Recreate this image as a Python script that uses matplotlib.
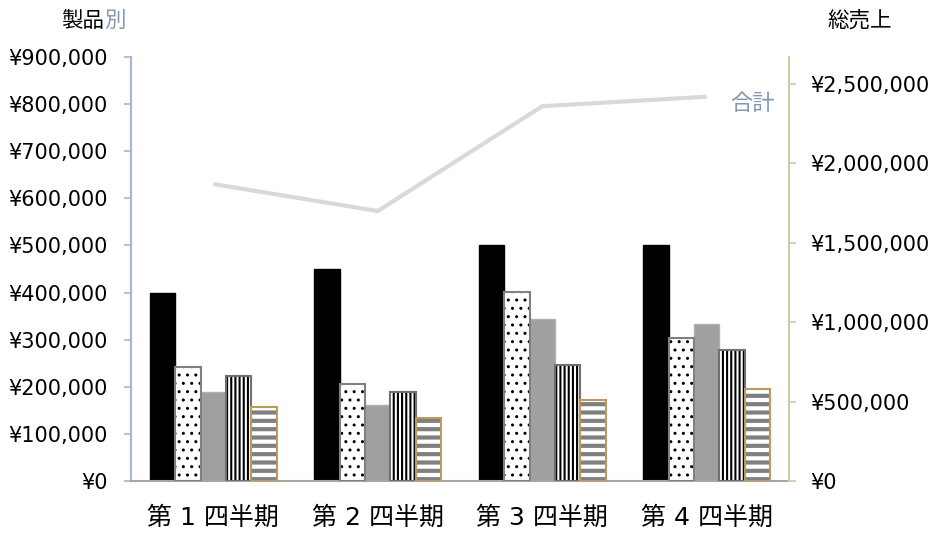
import matplotlib
matplotlib.use("Agg")
import matplotlib.pyplot as plt
import numpy as np

categories = ["第 1 四半期", "第 2 四半期", "第 3 四半期", "第 4 四半期"]
product_a = [400000, 450000, 500000, 500000]
product_b = [242000, 206000, 401000, 304000]
product_c = [189000, 161000, 344000, 333000]
product_d = [223000, 189000, 246000, 278000]
product_e = [157000, 134000, 172000, 195000]
total = [1870000, 1700000, 2360000, 2420000]
left_ticks = [0, 100000, 200000, 300000, 400000, 500000, 600000, 700000, 800000, 900000]
right_ticks = [0, 500000, 1000000, 1500000, 2000000, 2500000]

plt.rcParams['font.family'] = ['DejaVu Sans']
CJK = ['Noto Sans CJK JP', 'DejaVu Sans']
MIX = ['DejaVu Sans', 'Noto Sans CJK JP']

fig = plt.figure(figsize=(9.34, 5.34), dpi=100)
ax = fig.add_axes([131/934, 53/534, 658/934, 424/534])
ax2 = ax.twinx()

x = np.arange(len(categories))
w = 0.155
offs = np.array([-2, -1, 0, 1, 2]) * w

series = [product_a, product_b, product_c, product_d, product_e]
styles = [
    dict(face="#000000", hatch=None, hcol=None, edge="#000000", hlw=1.0),
    dict(face="#FFFFFF", hatch="..", hcol="#000000", edge="#808080", hlw=1.0),
    dict(face="#A0A0A0", hatch=None, hcol=None, edge="#B0B0B0", hlw=1.0),
    dict(face="#FFFFFF", hatch="||||", hcol="#000000", edge="#707070", hlw=1.5),
    dict(face="#FFFFFF", hatch="--", hcol="#808080", edge="#C09A5B", hlw=3.0),
]

for vals, off, st in zip(series, offs, styles):
    if st["hatch"]:
        with plt.rc_context({'hatch.linewidth': st["hlw"], 'hatch.color': st["hcol"]}):
            bars = ax.bar(x + off, vals, w, color=st["face"], edgecolor=st["hcol"],
                          hatch=st["hatch"], linewidth=0, zorder=2)
            for b in bars:
                try:
                    b._hatch_linewidth = st["hlw"]
                except Exception:
                    pass
        ax.bar(x + off, vals, w, fill=False, edgecolor=st["edge"], linewidth=1.5, zorder=3)
    else:
        ax.bar(x + off, vals, w, color=st["face"], edgecolor=st["edge"], linewidth=1.0, zorder=2)

ax2.plot(x, total, color="#D9D9D9", linewidth=3, zorder=4, solid_capstyle="butt")
ax2.text(x[-1] + 0.14, total[-1] - 40000, "合計", color="#8497B0", fontsize=16, family=CJK,
         va="center", ha="left")

ax.set_xlim(-0.5, 3.5)
ax.set_ylim(0, 900000)
ax2.set_ylim(0, 2670000)
ax.set_xticks(x)
ax.set_xticklabels(categories, family=MIX, fontsize=18)
ax.set_yticks(left_ticks)
ax.set_yticklabels([f"¥{v:,}" for v in left_ticks], fontsize=15)
ax2.set_yticks(right_ticks)
ax2.set_yticklabels([f"¥{v:,}" for v in right_ticks], fontsize=15)

for a in (ax, ax2):
    for s in a.spines.values():
        s.set_visible(False)
ax.spines['left'].set_visible(True)
ax.spines['left'].set_color("#A9B8CE")
ax.spines['left'].set_linewidth(1.5)
ax.spines['bottom'].set_visible(True)
ax.spines['bottom'].set_color("#A6A6A6")
ax.spines['bottom'].set_linewidth(1.5)
ax2.spines['right'].set_visible(True)
ax2.spines['right'].set_color("#CFCBA8")
ax2.spines['right'].set_linewidth(1.5)

ax.tick_params(axis='y', direction='out', length=5, width=1.2, color="#A9B8CE", pad=12)
ax.tick_params(axis='x', length=0, pad=18)
ax2.tick_params(axis='y', direction='out', length=5, width=1.2, color="#CFCBA8", pad=10)

fig.text(104/934, 1 - 21/534, "製品", family=CJK, fontsize=15.5, va="center", ha="right", color="#000000")
fig.text(104/934, 1 - 21/534, "別", family=CJK, fontsize=15.5, va="center", ha="left", color="#8497B0")
fig.text(860/934, 1 - 21/534, "総売上", family=CJK, fontsize=15.5, va="center", ha="center", color="#000000")

fig.savefig("out.png", dpi=100)
